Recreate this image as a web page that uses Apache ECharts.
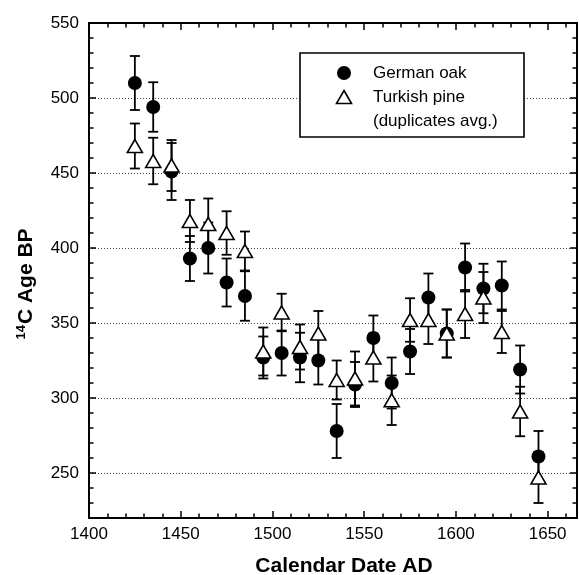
<!DOCTYPE html>
<html>
<head>
<meta charset="utf-8">
<script src="https://cdn.jsdelivr.net/npm/echarts@6/dist/echarts.min.js"></script>
<style>
  html, body { margin: 0; padding: 0; background: #fff; }
  #chart { width: 579px; height: 575px; }
</style>
</head>
<body>
<div id="chart"></div>
<script>
// calendar dates (decadal samples)
const years = [1425, 1435, 1445, 1455, 1465, 1475, 1485, 1495, 1505, 1515, 1525, 1535,
  1545, 1555, 1565, 1575, 1585, 1595, 1605, 1615, 1625, 1635, 1645]
// German oak 14C ages and 1-sigma errors
const oakAge = [510, 494, 451, 393, 400, 377, 368, 327, 330, 327, 325, 278,
  309, 340, 310, 331, 367, 343, 387, 373, 375, 319, 261]
const oakErr = [18, 16.5, 19, 15, 17, 16, 16.5, 14, 15, 16.5, 16, 18,
  15, 15, 17, 15, 16, 16, 16, 16.5, 16, 16, 17]
// Turkish pine (duplicates averaged)
const pineAge = [468, 458, 455, 418, 416, 410, 398, 331, 357, 334, 343, 312,
  313, 327, 298.5, 352, 352, 343, 356, 367, 344, 291, 247]
const pineErr = [15, 15.5, 17, 14, 17, 14.5, 13, 16, 12.5, 15, 15, 13,
  18, 16, 16.5, 14.5, 16, 16, 16, 17, 14, 16.5, 17]
const legendLabels = ['German oak', 'Turkish pine', '(duplicates avg.)']

const FONT = '"Liberation Sans", Arial, Helvetica, sans-serif'

const chart = echarts.init(document.getElementById('chart'))

function points(age) {
  return years.map((y, i) => [y, age[i]])
}
function bars(age, err) {
  return years.map((y, i) => [y, age[i] - err[i], age[i] + err[i]])
}

// vertical error bar with caps
function renderErrorBar(params, api) {
  const x = api.value(0)
  const lo = api.coord([x, api.value(1)])
  const hi = api.coord([x, api.value(2)])
  const w = 5
  const style = { stroke: '#000', lineWidth: 1.8, fill: null }
  return {
    type: 'group',
    children: [
      { type: 'line', shape: { x1: lo[0], y1: lo[1], x2: hi[0], y2: hi[1] }, style: style },
      { type: 'line', shape: { x1: lo[0] - w, y1: lo[1], x2: lo[0] + w, y2: lo[1] }, style: style },
      { type: 'line', shape: { x1: hi[0] - w, y1: hi[1], x2: hi[0] + w, y2: hi[1] }, style: style }
    ]
  }
}

const tickCommon = {
  axisLine: { show: true, onZero: false, lineStyle: { color: '#000', width: 2 } },
  axisTick: { show: true, inside: true, length: 7, lineStyle: { color: '#000', width: 1.5 } },
  minorTick: { show: true, splitNumber: 5, length: 4.5, lineStyle: { color: '#000', width: 1.5 } },
  splitLine: { show: false }
}

const xBase = {
  type: 'value',
  min: 1400,
  max: 1666,
  interval: 50
}
const yBase = {
  type: 'value',
  min: 220,
  max: 550,
  splitNumber: 6
}

const option = {
  backgroundColor: '#fff',
  animation: false,
  grid: {
    left: 89,
    right: 2,
    top: 23,
    bottom: 57,
    containLabel: false,
    outerBoundsMode: 'none'
  },
  xAxis: [
    Object.assign({}, xBase, tickCommon, {
      position: 'bottom',
      axisLabel: {
        color: '#000', fontSize: 17, fontFamily: FONT, margin: 8,
        showMaxLabel: false,
        formatter: (v) => String(v)
      }
    }),
    Object.assign({}, xBase, tickCommon, {
      position: 'top',
      axisLabel: { show: false }
    })
  ],
  yAxis: [
    Object.assign({}, yBase, tickCommon, {
      position: 'left',
      axisLabel: {
        color: '#000', fontSize: 17, fontFamily: FONT, margin: 10,
        showMinLabel: false,
        formatter: (v) => String(v)
      },
      splitLine: {
        show: true,
        lineStyle: { color: '#444', width: 1, type: [1, 2] }
      }
    }),
    Object.assign({}, yBase, tickCommon, {
      position: 'right',
      axisLabel: { show: false }
    })
  ],
  series: [
    {
      name: 'oakErr',
      type: 'custom',
      renderItem: renderErrorBar,
      encode: { x: 0, y: [1, 2] },
      data: bars(oakAge, oakErr),
      z: 2
    },
    {
      name: 'pineErr',
      type: 'custom',
      renderItem: renderErrorBar,
      encode: { x: 0, y: [1, 2] },
      data: bars(pineAge, pineErr),
      z: 2
    },
    {
      name: legendLabels[0],
      type: 'scatter',
      symbol: 'circle',
      symbolSize: 14,
      itemStyle: { color: '#000', opacity: 1 },
      data: points(oakAge),
      z: 3
    },
    {
      name: legendLabels[1],
      type: 'scatter',
      symbol: 'triangle',
      symbolSize: [15, 13],
      itemStyle: { color: '#fff', borderColor: '#000', borderWidth: 1.6, opacity: 1 },
      data: points(pineAge),
      z: 4
    }
  ],
  graphic: [
    // legend box
    {
      type: 'rect',
      shape: { x: 300, y: 53, width: 224, height: 84 },
      style: { fill: '#fff', stroke: '#000', lineWidth: 1.6 },
      z: 10
    },
    {
      type: 'circle',
      shape: { cx: 344, cy: 73, r: 7 },
      style: { fill: '#000' },
      z: 11
    },
    {
      type: 'polygon',
      shape: { points: [[344, 90.5], [351.5, 103.5], [336.5, 103.5]] },
      style: { fill: '#fff', stroke: '#000', lineWidth: 1.6 },
      z: 11
    },
    {
      type: 'text', x: 373, y: 73, z: 11,
      style: { text: legendLabels[0], font: '17px ' + FONT, fill: '#000', verticalAlign: 'middle' }
    },
    {
      type: 'text', x: 373, y: 97, z: 11,
      style: { text: legendLabels[1], font: '17px ' + FONT, fill: '#000', verticalAlign: 'middle' }
    },
    {
      type: 'text', x: 373, y: 121, z: 11,
      style: { text: legendLabels[2], font: '17px ' + FONT, fill: '#000', verticalAlign: 'middle' }
    },
    // axis titles
    {
      type: 'text', x: 344, y: 566, z: 11,
      style: {
        text: 'Calendar Date AD', font: 'bold 21px ' + FONT, fill: '#000',
        align: 'center', verticalAlign: 'middle'
      }
    },
    {
      type: 'text', x: 26, y: 284, rotation: Math.PI / 2, z: 11,
      style: {
        text: '{sup|14}{main|C Age BP}',
        align: 'center',
        verticalAlign: 'middle',
        rich: {
          sup: { fontSize: 13, fontWeight: 'bold', fontFamily: FONT, fill: '#000', color: '#000', padding: [0, 1, 9, 0] },
          main: { fontSize: 21, fontWeight: 'bold', fontFamily: FONT, fill: '#000', color: '#000' }
        }
      }
    }
  ]
}

chart.setOption(option)
</script>
</body>
</html>
